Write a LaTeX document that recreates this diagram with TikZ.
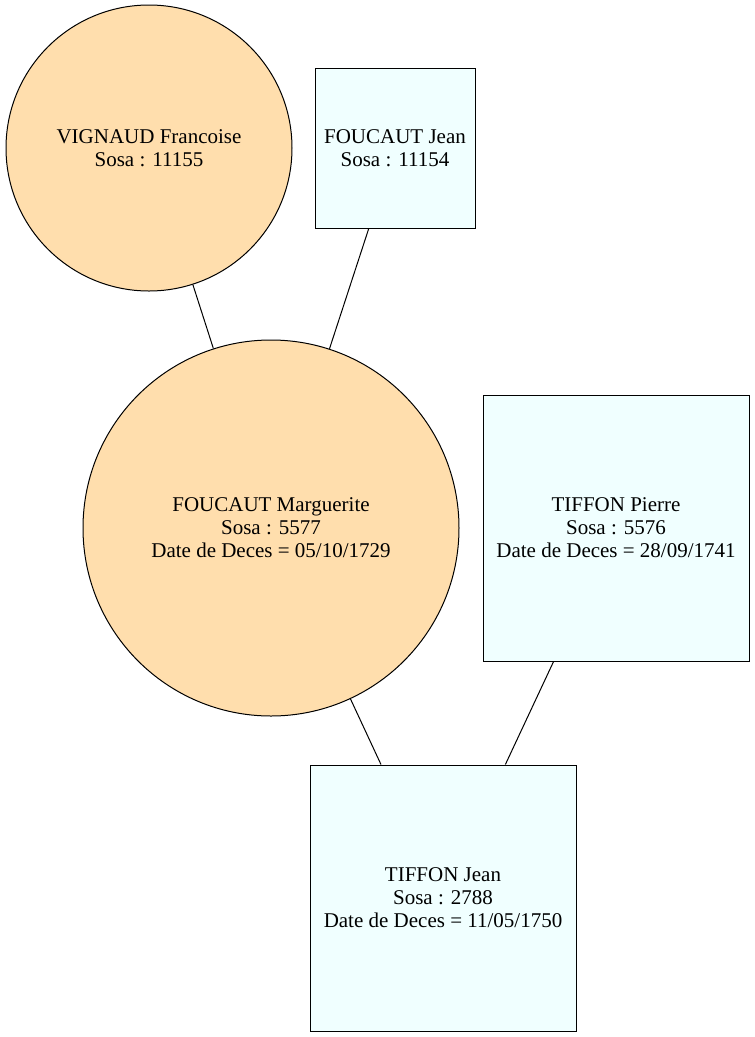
\documentclass[tikz,border=0pt]{standalone}
\usepackage{fontspec}
\setmainfont{Liberation Serif}
\definecolor{femfill}{HTML}{FFDEAD}
\definecolor{malefill}{HTML}{F0FFFF}
\begin{document}
\begin{tikzpicture}[x=1pt,y=-1pt,
  person/.style={draw=black, line width=1pt, inner sep=0pt, align=center,
    font=\fontsize{21}{23}\selectfont},
  woman/.style={person, circle, fill=femfill},
  man/.style={person, rectangle, fill=malefill},
  link/.style={draw=black, line width=1pt}]
\useasboundingbox (0,0) rectangle (755,1037);
\node[woman, minimum size=286pt] (vf) at (149,148) {VIGNAUD Francoise\\Sosa : 11155};
\node[man, minimum width=160pt, minimum height=160pt] (fj) at (395,148) {FOUCAUT Jean\\Sosa : 11154};
\node[woman, minimum size=376pt] (fm) at (271,528) {FOUCAUT Marguerite\\Sosa : 5577\\Date de Deces = 05/10/1729};
\node[man, minimum width=266pt, minimum height=266pt] (tp) at (616,528) {TIFFON Pierre\\Sosa : 5576\\Date de Deces = 28/09/1741};
\node[man, minimum width=266pt, minimum height=266pt] (tj) at (443,898) {TIFFON Jean\\Sosa : 2788\\Date de Deces = 11/05/1750};
\draw[link] (vf) -- (fm);
\draw[link] (fj) -- (fm);
\draw[link] (fm) -- (tj);
\draw[link] (tp) -- (tj);
\end{tikzpicture}
\end{document}
